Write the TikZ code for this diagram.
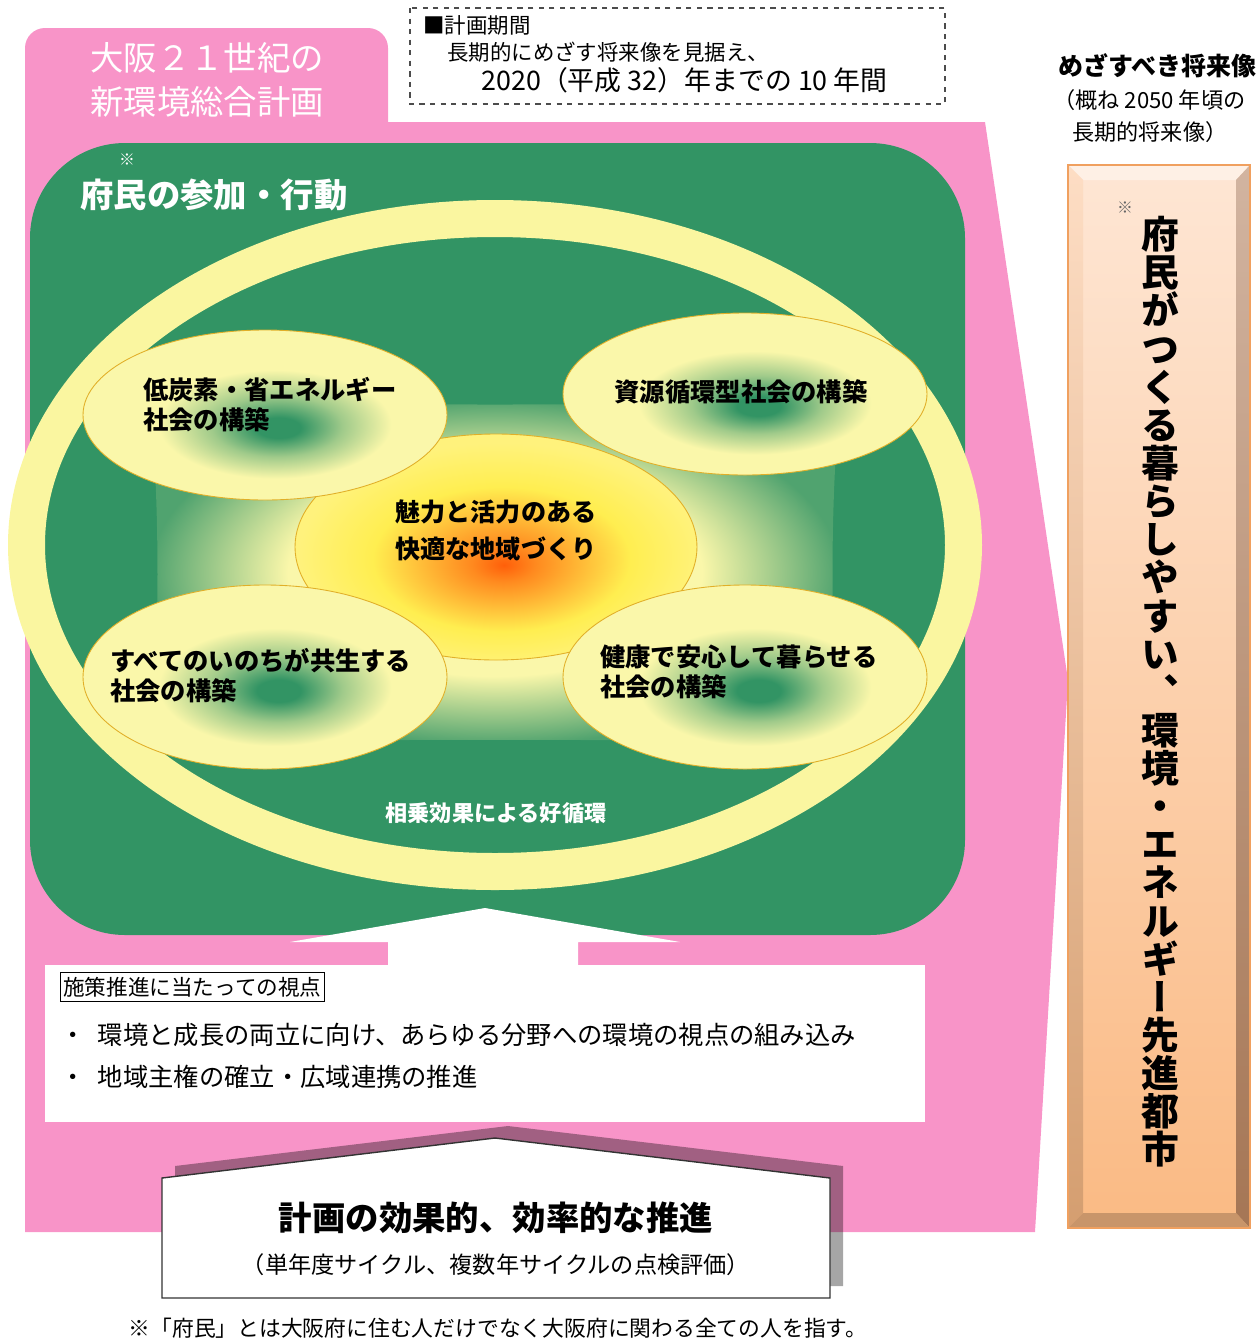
\documentclass[tikz,border=0pt]{standalone}
\usepackage{fontspec}
\setmainfont{Noto Sans CJK JP}
\newfontfamily\vjp[RawFeature=+vert]{Noto Sans CJK JP}
\usetikzlibrary{positioning}
\definecolor{planpink}{RGB}{248,148,200}
\definecolor{actgreen}{RGB}{50,148,100}
\definecolor{ringyellow}{RGB}{250,246,160}
\definecolor{ovalyellow}{RGB}{250,247,170}
\definecolor{ovalline}{RGB}{225,175,40}
\definecolor{coreorange}{RGB}{255,95,10}
\definecolor{coreyellow}{RGB}{255,238,80}
\definecolor{peachtop}{RGB}{254,230,212}
\definecolor{peachbot}{RGB}{250,186,132}
\definecolor{peachline}{RGB}{240,160,95}
\pgfdeclareradialshading{ovalshade}{\pgfpoint{2bp}{-4bp}}{color(0bp)=(actgreen); color(3bp)=(actgreen); color(9bp)=(actgreen!45!ovalyellow); color(16bp)=(ovalyellow); color(50bp)=(ovalyellow)}
\pgfdeclareradialshading{coreshade}{\pgfpoint{1bp}{-4bp}}{color(0bp)=(coreorange); color(4bp)=(coreorange!70!coreyellow); color(16bp)=(coreyellow); color(25bp)=(coreyellow!75!white); color(50bp)=(coreyellow!75!white)}
\pgfdeclareradialshading{padshade}{\pgfpoint{0bp}{0bp}}{color(0bp)=(ovalyellow); color(15bp)=(ovalyellow); color(25bp)=(actgreen!85!ovalyellow); color(50bp)=(actgreen!85!ovalyellow)}

\begin{document}
\begin{tikzpicture}[x=0.2mm, y=-0.2mm, every node/.style={inner sep=0pt}]
  \tikzstyle{oval} = [shading=ovalshade, draw=ovalline, line width=0.5pt]
  \tikzstyle{ovaltext} = [font=\bfseries\fontsize{14.4pt}{17pt}\selectfont, align=left, anchor=west]
  \tikzstyle{plain} = [font=\fontsize{12.2pt}{14pt}\selectfont, anchor=west]
  \useasboundingbox (0,0) rectangle (1259,1342);
  \fill[planpink, rounded corners=4mm] (25,28) rectangle (388,170);
  \fill[planpink] (25,122) -- (985,122) -- (1068,680) -- (1035,1232) -- (25,1232) -- cycle;
  \fill[actgreen, rounded corners=19mm] (30,143) rectangle (965,935);
  \fill[white] (388,1000) -- (388,942) -- (290,942) -- (485,908) -- (680,942) -- (578,942) -- (578,1000) -- cycle;
  \fill[white] (45,965) rectangle (925,1122);
  \draw[dashed, black!70, line width=0.6pt] (410,8) rectangle (945,104);
  \fill[ringyellow, even odd rule] (495,545) ellipse [x radius=487, y radius=345]
    (495,545) ellipse [x radius=450, y radius=308];
  \shade[shading=padshade] (150,400) .. controls (300,406) and (690,406) .. (840,400)
    .. controls (830,500) and (830,650) .. (840,745) .. controls (690,738) and (300,738) .. (150,745)
    .. controls (160,650) and (160,500) .. (150,400) -- cycle;
  \shadedraw[shading=coreshade, draw=ovalline, line width=0.5pt] (496,547) ellipse [x radius=201, y radius=113];
  \foreach \cx/\cy/\ry in {265/415/85, 745/394/81, 265/677/92, 745/677/92}
    \shadedraw[oval] (\cx,\cy) ellipse [x radius=182, y radius=\ry];
  \node[ovaltext] (lowcarbon) at (143,405) {低炭素・省エネルギー\\社会の構築};
  \node[ovaltext, anchor=center] (recycle) at (741,392) {資源循環型社会の構築};
  \node[ovaltext] (coexist) at (110,676) {すべてのいのちが共生する\\社会の構築};
  \node[ovaltext] (safety) at (600,672) {健康で安心して暮らせる\\社会の構築};
  \node[ovaltext, font=\bfseries\fontsize{14.3pt}{21pt}\selectfont] (region) at (395,530) {魅力と活力のある\\快適な地域づくり};
  \node[font=\bfseries\fontsize{12.6pt}{14pt}\selectfont, text=white] (cycle) at (496,813) {相乗効果による好循環};
  \node[anchor=west, font=\fontsize{19pt}{25pt}\selectfont, text=white, align=left] (plan) at (90,80) {大阪２１世紀の\\新環境総合計画};
  \node[font=\fontsize{9pt}{10pt}\selectfont, text=white] (actmark) at (127,160) {※};
  \node[anchor=west, font=\bfseries\fontsize{19pt}{22pt}\selectfont, text=white] (action) at (80,195) {府民の参加・行動};
  \node[plain] (period) at (423,25) {■計画期間};
  \node[plain] (outlook) at (447,52) {長期的にめざす将来像を見据え、};
  \node[plain, font=\fontsize{15.3pt}{17pt}\selectfont] (span) at (481,80) {2020（平成 32）年までの 10 年間};
  \node[anchor=west, font=\bfseries\fontsize{14.2pt}{16pt}\selectfont] (goal) at (1058,66) {めざすべき将来像};
  \node[anchor=west, font=\fontsize{12.6pt}{14pt}\selectfont] (goalyear) at (1053,100) {（概ね 2050 年頃の};
  \node[anchor=west, font=\fontsize{12.6pt}{14pt}\selectfont] (goalterm) at (1072,132) {長期的将来像）};
  % vision box
  \shade[top color=peachtop, bottom color=peachbot] (1068,165) rectangle (1250,1228);
  \fill[peachtop!60!white] (1068,165) -- (1250,165) -- (1236,180) -- (1083,180) -- cycle;
  \shade[top color=peachtop!80!peachbot, bottom color=peachbot!85!black] (1068,165) -- (1083,180) -- (1083,1213) -- (1068,1228) -- cycle;
  \shade[top color={rgb,255:red,210;green,180;blue,160}, bottom color={rgb,255:red,165;green,118;blue,85}] (1250,165) -- (1250,1228) -- (1236,1213) -- (1236,180) -- cycle;
  \fill[peachbot!80!black] (1068,1228) -- (1250,1228) -- (1236,1213) -- (1083,1213) -- cycle;
  \draw[peachline, line width=0.8pt] (1068,165) rectangle (1250,1228);
  \node[font=\fontsize{9pt}{10pt}\selectfont, text=black!60] (visionmark) at (1125,208) {※};
  \node[font=\vjp\bfseries\fontsize{21.5pt}{21.7pt}\selectfont, align=center, anchor=north] (vision) at (1160,216)
    {府\\民\\が\\つ\\く\\る\\暮\\ら\\し\\や\\す\\い\\、\\環\\境\\・\\エ\\ネ\\ル\\ギ\\ー\\先\\進\\都\\市};
  % viewpoints
  \node[draw, line width=0.6pt, anchor=west, inner xsep=1.5pt, minimum height=5.8mm, font=\fontsize{12.3pt}{14pt}\selectfont] (viewpoint) at (60,987) {施策推進に当たっての視点};
  \node[anchor=west, font=\fontsize{14.4pt}{17pt}\selectfont] (growth) at (60,1035) {・\hspace{7pt}環境と成長の両立に向け、あらゆる分野への環境の視点の組み込み};
  \node[anchor=west, font=\fontsize{14.4pt}{17pt}\selectfont] (local) at (60,1077) {・\hspace{7pt}地域主権の確立・広域連携の推進};
  % promotion
  \fill[black, opacity=0.35] (175,1166) -- (508,1126) -- (843,1166) -- (843,1286) -- (175,1286) -- cycle;
  \filldraw[fill=white, draw=black!80, line width=0.8pt] (162,1178) -- (495,1138) -- (830,1178) -- (830,1298) -- (162,1298) -- cycle;
  \node[font=\bfseries\fontsize{19pt}{22pt}\selectfont] (promote) at (496,1218) {計画の効果的、効率的な推進};
  \node[font=\fontsize{13.2pt}{15pt}\selectfont] (check) at (496,1265) {（単年度サイクル、複数年サイクルの点検評価）};
  \node[font=\fontsize{12.4pt}{14pt}\selectfont] (note) at (498,1328) {※「府民」とは大阪府に住む人だけでなく大阪府に関わる全ての人を指す。};
\end{tikzpicture}
\end{document}
